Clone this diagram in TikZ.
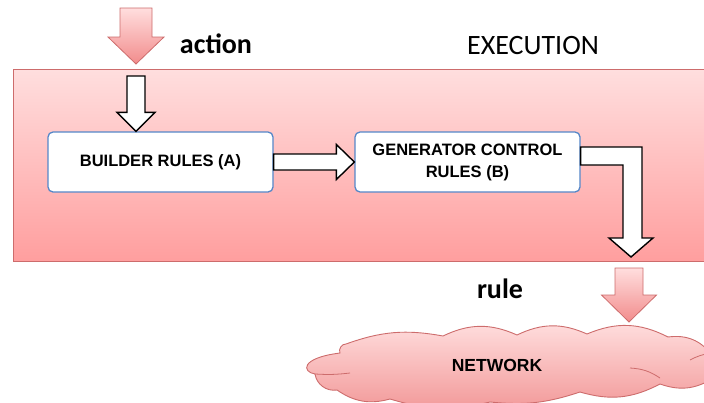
\documentclass[tikz,border=0pt]{standalone}
\usepackage{fontspec}
\setmainfont{Liberation Sans}
\newfontfamily\calib{Carlito}
\usetikzlibrary{calc}

\definecolor{pinktop}{RGB}{255,222,222}
\definecolor{pinkbot}{RGB}{255,158,158}
\definecolor{pinkedge}{RGB}{205,108,108}
\definecolor{arrowbot}{RGB}{242,140,140}
\definecolor{cloudbot}{RGB}{242,152,152}
\definecolor{boxblue}{RGB}{85,135,200}

% Block arrow pointing down: style, start, tip, half shaft, half head, head length
\newcommand\blockdown[6]{%
  \path[#1] let \p1=#2, \p2=#3 in
    (\x1-#4,\y1) -- (\x1+#4,\y1) -- (\x1+#4,\y2+#6) -- (\x1+#5,\y2+#6)
    -- (\x2,\y2) -- (\x1-#5,\y2+#6) -- (\x1-#4,\y2+#6) -- cycle;}

% Block arrow pointing right: style, start, tip, half shaft, half head, head length
\newcommand\blockright[6]{%
  \path[#1] let \p1=#2, \p2=#3 in
    (\x1,\y1+#4) -- (\x2-#6,\y1+#4) -- (\x2-#6,\y1+#5) -- (\x2,\y2)
    -- (\x2-#6,\y1-#5) -- (\x2-#6,\y1-#4) -- (\x1,\y1-#4) -- cycle;}

\begin{document}
\begin{tikzpicture}[x=1pt,y=-1pt,
  panel/.style={draw=pinkedge, line width=1.2pt, top color=pinktop, bottom color=pinkbot, inner sep=0pt},
  rulebox/.style={draw=boxblue, line width=1.3pt, fill=white, rounded corners=5pt,
    minimum width=225pt, minimum height=60pt, align=center, inner sep=0pt,
    font=\fontsize{16.5}{20}\selectfont\bfseries},
  hollow/.style={draw=black, line width=1.4pt, fill=white, line join=miter},
  pinkarrow/.style={draw=pinkedge, line width=0.8pt, top color=pinktop, bottom color=arrowbot},
  cloudshape/.style={draw=pinkedge, line width=0.9pt, top color=pinktop, bottom color=cloudbot},
  cloudfold/.style={draw=pinkedge, line width=0.8pt},
  caption/.style={font=\calib\fontsize{28}{32}\selectfont, inner sep=0pt, anchor=base},
  boldcaption/.style={caption, font=\calib\fontsize{28}{32}\selectfont\bfseries},
]
\clip (0,0) rectangle (704,402);

% execution panel
\node[panel, minimum width=710pt, minimum height=192pt, anchor=north west] (exec) at (13,69) {};
\node[caption] (exlabel) at (533,54) {EXECUTION};

% labels outside the panel
\node[boldcaption] (actlabel) at (216,53) {action};
\node[boldcaption] (rulelabel) at (500,298) {rule};

% rule boxes
\node[rulebox] (builder) at (160.5,162) {BUILDER RULES (A)};
\node[rulebox] (generator) at (467.5,162) {GENERATOR CONTROL\\[2pt]RULES (B)};

% network cloud: lobes bulging outwards, traced clockwise
\path[cloudshape]
  (340,353) to[bend left=60] (346,344)
  to[bend left=15] (443,336) to[bend left=25] (517,335)
  to[bend left=25] (587,334) to[bend left=25] (668,337)
  to[bend left=30] (712,355) -- (712,379)
  to[bend left=25] (660,384) to[bend left=22] (580,392)
  to[bend left=12] (490,402) to[bend left=15] (390,399)
  to[bend left=25] (337,390) to[bend left=45] (315,374)
  .. controls (302,372) and (300,358) .. (340,353) -- cycle;
% folds inside the cloud
\path[cloudfold] (315,374) to[bend right=5] (350,373);
\path[cloudfold] (630,368) to[bend left=15] (660,378);
\path[cloudfold] (690,360) to[bend left=10] (712,353);
\node[inner sep=0pt, font=\fontsize{17.5}{20}\selectfont\bfseries] (network) at (497,365) {NETWORK};
\coordinate (cloudtop) at (629,322);

% free ends of the arrows
\coordinate (actin) at (136,8);
\coordinate (acttip) at (136,64);
\coordinate (execin) at (136,76);
\coordinate (rulein) at (629,268);
\coordinate (genout) at ($(generator.east)+(0,-6)$);
\coordinate (elbowtip) at (631,257);

% incoming action
\blockdown{pinkarrow}{(actin)}{(acttip)}{16pt}{28pt}{27pt}
% into builder rules
\blockdown{hollow}{(execin)}{(execin |- builder.north)}{9pt}{19pt}{19pt}
% builder -> generator
\blockright{hollow}{(builder.east)}{(generator.west)}{8pt}{17.5pt}{18pt}
% generator -> out of the panel (elbow)
\path[hollow] let \p1=(genout), \p2=(elbowtip) in
  (\x1,\y1+9pt) -- (\x2+11pt,\y1+9pt) -- (\x2+11pt,\y2+19pt) -- (\x2+22pt,\y2+19pt)
  -- (\x2,\y2) -- (\x2-22pt,\y2+19pt) -- (\x2-8pt,\y2+19pt) -- (\x2-8pt,\y1-9pt)
  -- (\x1,\y1-9pt) -- cycle;
% rule into the network
\blockdown{pinkarrow}{(rulein)}{(cloudtop)}{14pt}{27.5pt}{27pt}
\end{tikzpicture}
\end{document}
